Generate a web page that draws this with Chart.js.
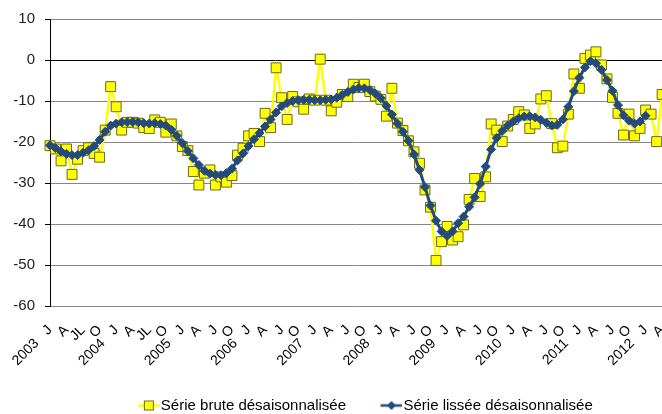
<!DOCTYPE html>
<html lang="fr">
<head>
<meta charset="utf-8">
<script src="https://cdn.jsdelivr.net/npm/chart.js@4.4.1/dist/chart.umd.min.js"></script>
<style>
  html, body { margin: 0; padding: 0; background: #fff; overflow: hidden; }
  #wrap { width: 676px; height: 414px; }
</style>
</head>
<body>
<div id="wrap"><canvas id="chart" width="676" height="414"></canvas></div>
<script>
// Années et lettres des trimestres (J = janvier, A = avril, JL/J = juillet, O = octobre)
const annees = ['2003', '2004', '2005', '2006', '2007', '2008', '2009', '2010', '2011', '2012'];
const lettresTrimestres = [
  'J', 'A', 'JL', 'O',  'J', 'A', 'JL', 'O',
  'J', 'A', 'J', 'O',   'J', 'A', 'J', 'O',   'J', 'A', 'J', 'O',
  'J', 'A', 'J', 'O',   'J', 'A', 'J', 'O',   'J', 'A', 'J', 'O',
  'J', 'A', 'J', 'O',   'J', 'A'
];

// Mois de janvier 2003 à avril 2012
const mois = [];
annees.forEach(a => {
  for (let m = 1; m <= 12; m++) {
    if (a === '2012' && m > 4) break;
    mois.push(a + '-' + String(m).padStart(2, '0'));
  }
});

const serieBrute = [
  -20.9, -21.7, -24.6, -21.7, -27.9, -24.2, -22.1, -21.4, -22.8, -23.7, -17.1, -6.5,
  -11.4, -17.1, -15.2, -15.2, -15.4, -16.5, -16.7, -14.6, -15.2, -17.6, -15.6, -18.5,
  -21.1, -22.1, -27.2, -30.5, -27.6, -26.8, -30.5, -28.5, -29.8, -28.2, -23.2, -21.5,
  -18.5, -17.9, -19.9, -13.0, -16.5, -1.9, -9.2, -14.5, -8.9, -10.2, -12.0, -9.5,
  -9.8, 0.2, -9.8, -12.4, -10.3, -8.4, -8.9, -5.9, -6.7, -5.9, -7.7, -8.8,
  -9.6, -13.7, -6.9, -15.4, -17.2, -19.7, -22.4, -25.2, -31.7, -35.9, -48.9, -44.3,
  -40.6, -43.9, -43.1, -40.2, -34.0, -28.9, -33.3, -28.5, -15.6, -17.1, -19.9, -16.1,
  -14.5, -12.6, -13.4, -16.7, -15.6, -9.5, -8.7, -15.5, -21.4, -21.0, -13.2, -3.4,
  -6.9, 0.4, 1.2, 2.0, -1.2, -4.6, -9.1, -13.0, -18.3, -13.2, -18.5, -16.7,
  -12.2, -13.2, -19.9, -8.4
];

const serieLissee = [
  -20.8, -21.5, -22.3, -22.9, -23.2, -23.2, -22.6, -22.0, -21.0, -19.5, -17.5, -16.0,
  -15.5, -15.2, -15.1, -15.1, -15.2, -15.4, -15.5, -15.4, -15.6, -16.0, -17.0, -18.5,
  -20.3, -22.2, -24.0, -25.6, -27.0, -27.7, -28.0, -28.1, -27.6, -26.5, -24.5, -22.8,
  -21.0, -19.3, -17.8, -16.2, -14.5, -12.8, -11.3, -10.5, -10.0, -9.8, -9.7, -9.7,
  -9.8, -9.8, -9.7, -9.6, -9.2, -8.5, -7.8, -7.2, -6.8, -6.9, -7.3, -8.2,
  -9.3, -11.2, -13.3, -15.5, -17.5, -19.7, -23.0, -26.8, -31.0, -35.5, -39.2, -41.8,
  -42.9, -41.8, -39.8, -38.2, -35.8, -33.5, -30.2, -26.0, -21.8, -19.0, -17.3, -16.0,
  -15.0, -14.2, -13.8, -13.7, -14.0, -14.6, -15.3, -16.0, -15.8, -14.5, -11.4, -7.6,
  -4.3, -1.8, -0.3, -0.8, -2.4, -4.9, -7.5, -11.0, -13.5, -14.8, -15.5, -15.0,
  -13.6, null, null, null
];

const jaune = '#ffff00';
const bordJaune = '#6b6b1a';
const bleu = '#244a7c';
const police = "'Liberation Sans', Arial, sans-serif";

// Symboles de légende : trait + marqueur, calés à droite de l'image (collés au texte)
function symbole(couleurTrait, dessinMarqueur) {
  const c = document.createElement('canvas');
  c.width = 53; c.height = 12;
  const g = c.getContext('2d');
  g.translate(31, 0);
  g.strokeStyle = couleurTrait;
  g.lineWidth = 2.5;
  g.beginPath(); g.moveTo(0, 6); g.lineTo(22, 6); g.stroke();
  dessinMarqueur(g);
  return c;
}
const symboleBrute = symbole(jaune, g => {
  g.fillStyle = jaune; g.strokeStyle = bordJaune; g.lineWidth = 1;
  g.fillRect(6.5, 1.5, 9, 9); g.strokeRect(6.5, 1.5, 9, 9);
});
const symboleLissee = symbole(bleu, g => {
  g.fillStyle = bleu;
  g.beginPath(); g.moveTo(11, 1.5); g.lineTo(15.5, 6); g.lineTo(11, 10.5); g.lineTo(6.5, 6); g.closePath(); g.fill();
});

// Recentre la légende sous la zone de tracé et la descend un peu
const decalageLegende = {
  id: 'decalageLegende',
  afterLayout(chart) {
    const lg = chart.legend;
    const cible = (chart.chartArea.left + chart.chartArea.right) / 2 - 3;
    const dx = cible - (lg.left + lg.right) / 2;
    lg.left += dx; lg.right += dx;
    lg.top += 9; lg.bottom += 9;
  }
};

new Chart(document.getElementById('chart'), {
  type: 'line',
  data: {
    labels: mois,
    datasets: [{
      label: 'Série brute désaisonnalisée',
      data: serieBrute,
      order: 2,
      borderColor: jaune,
      borderWidth: 2.5,
      pointStyle: 'rect',
      pointRadius: 7,
      pointBackgroundColor: jaune,
      pointBorderColor: bordJaune,
      pointBorderWidth: 1,
      tension: 0,
      clip: false
    }, {
      label: 'Série lissée désaisonnalisée',
      data: serieLissee,
      order: 1,
      borderColor: bleu,
      borderWidth: 3,
      pointStyle: 'rectRot',
      pointRadius: 4.5,
      pointBackgroundColor: bleu,
      pointBorderColor: bleu,
      pointBorderWidth: 1,
      tension: 0,
      clip: false
    }]
  },
  options: {
    responsive: false,
    animation: false,
    layout: { padding: { top: 19, left: 0, right: 0, bottom: 0 } },
    scales: {
      x: {
        grid: {
          display: true,
          drawOnChartArea: false,
          drawTicks: true,
          tickLength: 14,
          color: 'rgba(0,0,0,0)'
        },
        border: { display: false },
        ticks: {
          autoSkip: false,
          minRotation: 45,
          maxRotation: 45,
          padding: 2,
          color: '#000',
          font: { family: police, size: 14 },
          callback: (v, i) => {
            if (i % 3 !== 0) return '';
            const lettre = lettresTrimestres[i / 3];
            return i % 12 === 0 ? annees[i / 12] + '   ' + lettre : lettre;
          }
        },
        afterFit: s => { s.height = 73; }
      },
      y: {
        min: -60,
        max: 10,
        ticks: {
          stepSize: 10,
          padding: 10,
          color: '#222',
          font: { family: police, size: 15 }
        },
        grid: {
          color: c => (c.tick && c.tick.value === 0 ? '#000' : '#868686'),
          tickColor: '#000',
          tickLength: 5
        },
        border: { display: true, color: '#000', width: 1 },
        afterFit: s => { s.width = 50; }
      }
    },
    plugins: {
      legend: {
        position: 'bottom',
        labels: {
          usePointStyle: true,
          pointStyleWidth: 40,
          padding: 10,
          color: '#000',
          font: { family: police, size: 15 },
          sort: (a, b) => a.datasetIndex - b.datasetIndex,
          generateLabels: chart => chart.data.datasets.map((d, i) => ({
            text: d.label,
            datasetIndex: i,
            pointStyle: i === 0 ? symboleBrute : symboleLissee,
            fillStyle: d.borderColor,
            strokeStyle: d.borderColor,
            lineWidth: 0,
            hidden: false
          }))
        }
      },
      tooltip: { enabled: false }
    }
  },
  plugins: [decalageLegende]
});
</script>
</body>
</html>
